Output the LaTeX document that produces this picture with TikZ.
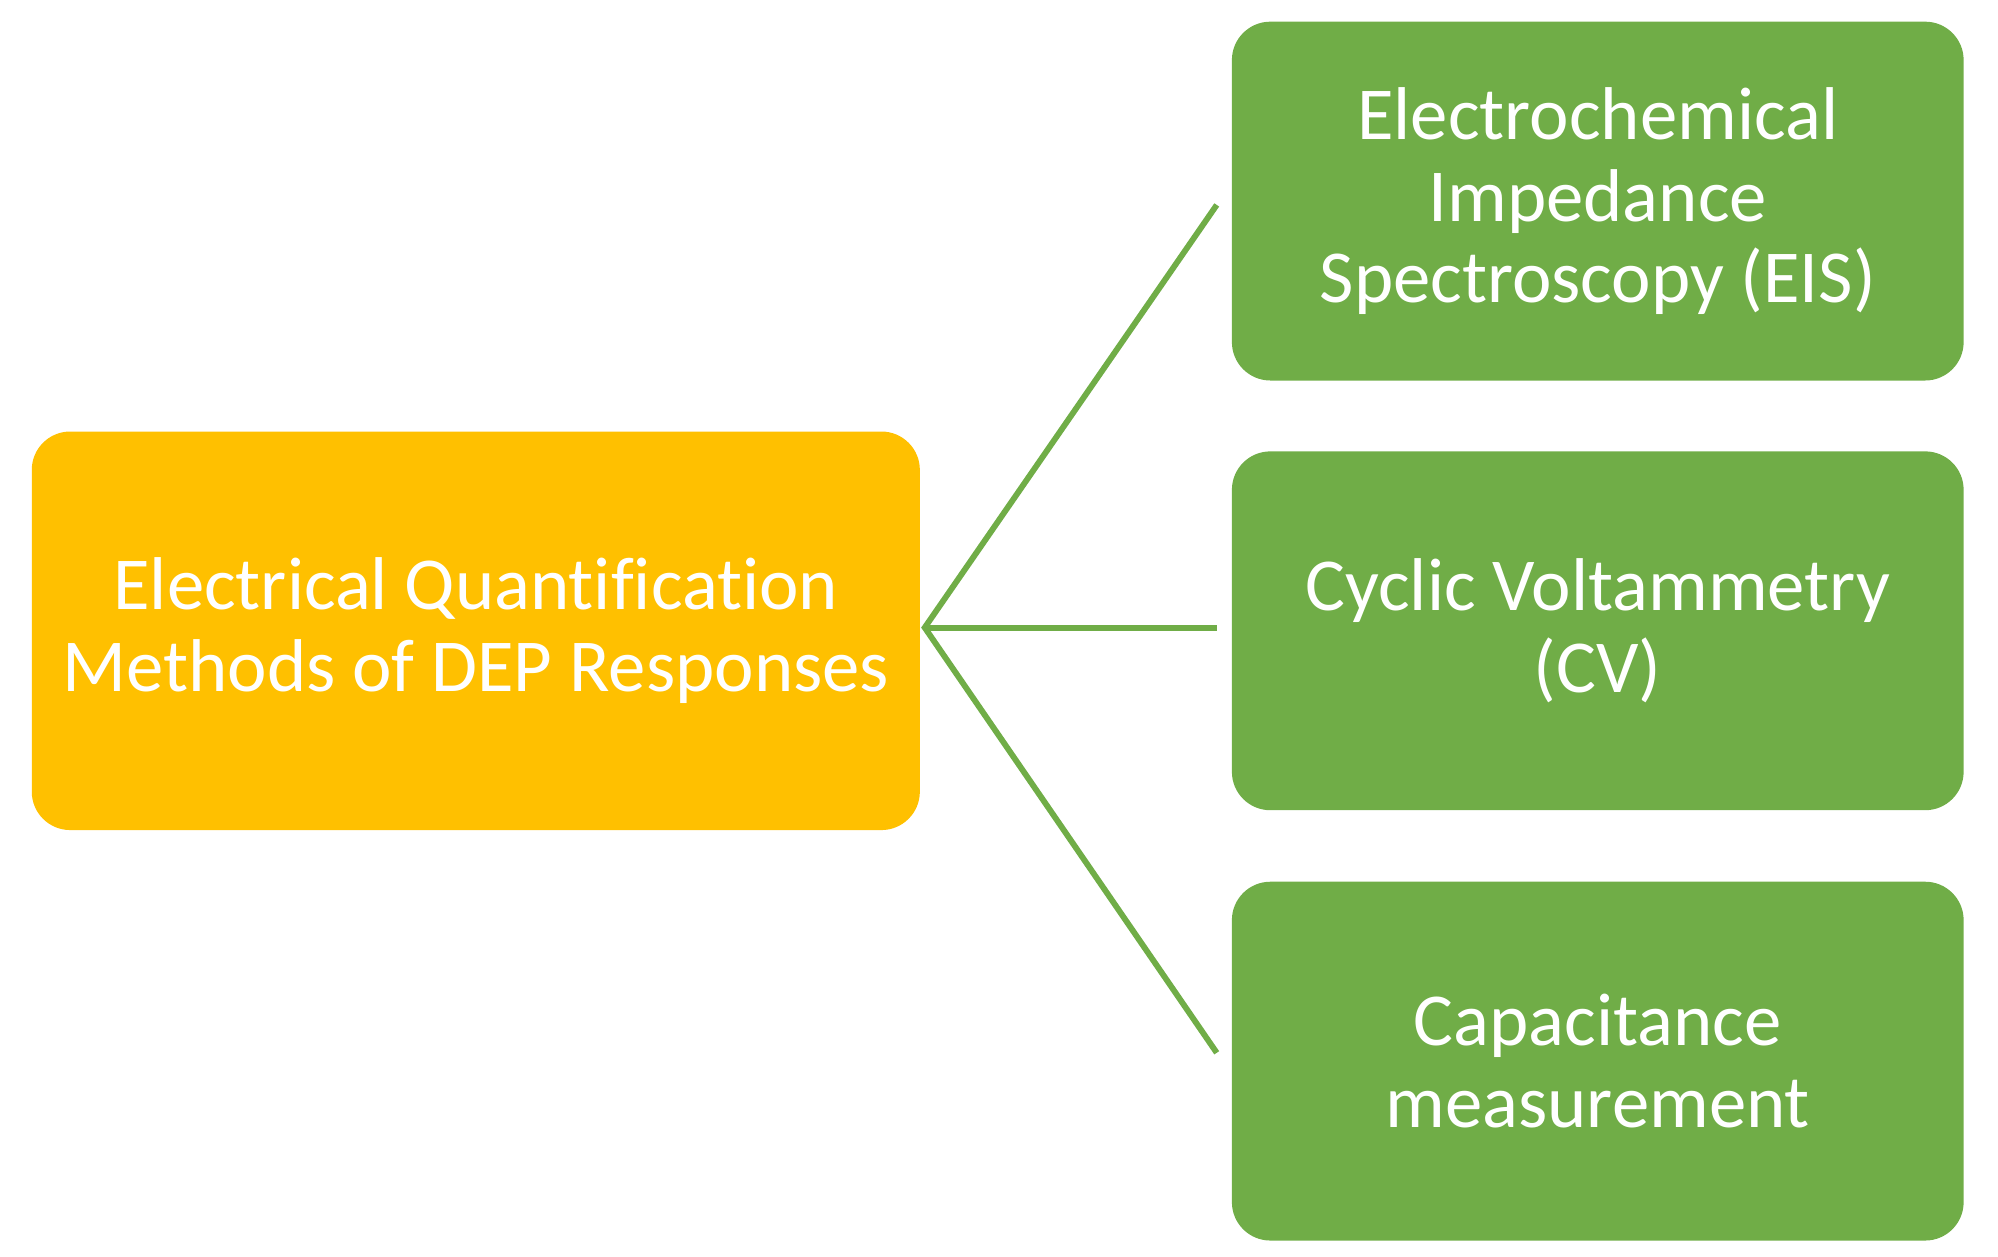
\documentclass[tikz,border=0pt]{standalone}
\usepackage{fontspec}
\setmainfont{Carlito}[RawFeature=-liga]
\begin{document}
\begin{tikzpicture}[x=0.01cm,y=-0.01cm,
  box/.style={rounded corners=0.3cm,draw=none,text=white,align=center,font=\fontsize{16.6}{18.2}\selectfont,inner sep=0pt},
  gbox/.style={box,fill={rgb,255:red,112;green,173;blue,71},minimum width=5.71cm,minimum height=2.8cm},
  link/.style={draw={rgb,255:red,112;green,173;blue,71},line width=1.3pt}]
\useasboundingbox (0,0) rectangle (1560,981);
\node[box,fill={rgb,255:red,255;green,192;blue,0},minimum width=6.93cm,minimum height=3.11cm] (root) at (371.5,492.5) {Electrical Quantification\\Methods of DEP Responses};
\node[gbox] (eis) at (1247.5,157) {Electrochemical\\Impedance\\Spectroscopy (EIS)};
\node[gbox] (cv) at (1247.5,492.5) {Cyclic Voltammetry\\(CV)};
\node[gbox] (cap) at (1247.5,828.5) {Capacitance\\measurement};
\coordinate (h) at (722,490);
\coordinate (e1) at (950,160);
\coordinate (e2) at (950,490);
\coordinate (e3) at (950,822);
\draw[link] (e1) -- (h) -- (e3);
\draw[link] (h) -- (e2);
\end{tikzpicture}
\end{document}
